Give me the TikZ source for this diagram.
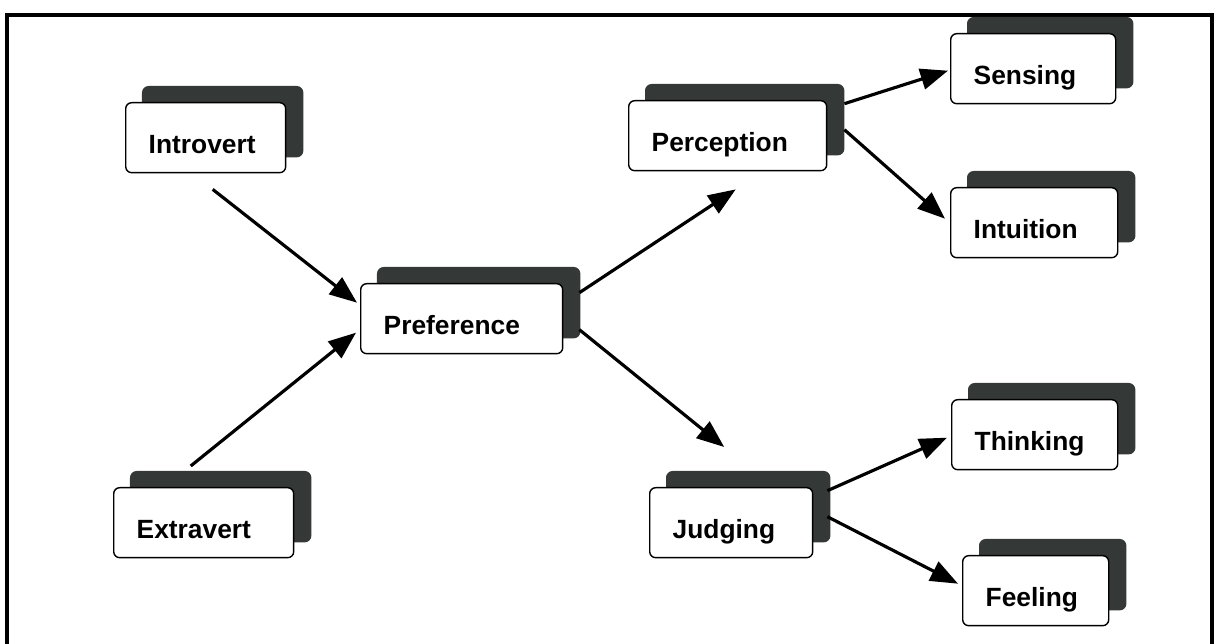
\documentclass[tikz,border=0pt]{standalone}
\usepackage{fontspec}
\setsansfont{Liberation Sans}
\usetikzlibrary{arrows.meta,shadows,calc}
\definecolor{backgray}{RGB}{52,56,54}
\tikzset{
  box/.style={draw=black, line width=0.8pt, fill=white, rounded corners=0.12cm,
    anchor=north west, align=left, text width={(#1-46)*0.02cm},
    inner xsep=0.46cm, inner ysep=0pt, text height=1.02cm, text depth=0.38cm,
    font=\sffamily\bfseries\fontsize{15}{18}\selectfont,
    copy shadow={shadow xshift=0.34cm, shadow yshift=0.32cm, fill=backgray,
      draw=backgray, rounded corners=0.12cm}},
  link/.style={line width=1.8pt, -{Triangle[length=0.55cm,width=0.42cm]}}
}
\begin{document}
\begin{tikzpicture}[x=0.02cm, y=-0.02cm]

    \useasboundingbox (0,0) rectangle (1218,644);
    \draw[line width=2.2pt] (7,650) -- (7,15) -- (1212,15) -- (1212,650);

    \node[box=160] (intro) at (125,102) {Introvert};
    \node[box=180] (extra) at (113,487) {Extravert};
    \node[box=202] (pref) at (360,283) {Preference};
    \node[box=198] (perc) at (628,100) {Perception};
    \node[box=163] (judg) at (649,487) {Judging};
    \node[box=165] (sens) at (950,33) {Sensing};
    \node[box=167] (intu) at (950,187) {Intuition};
    \node[box=166] (think) at (951,399) {Thinking};
    \node[box=146] (feel) at (962,555) {Feeling};

    \draw[link] ($(intro.south)+(7,16)$) -- ($(pref.west)+(-3,-16)$);
    \draw[link] ($(extra.north)+(-13,-21)$) -- ($(pref.west)+(-4,14)$);
    \draw[link] ($(pref.east)+(16,-26)$) -- ($(perc.south)+(8,18)$);
    \draw[link] ($(pref.east)+(16,11)$) -- ($(judg.north)+(-7,-40)$);
    \draw[link] ($(perc.east)+(17,-32)$) -- ($(sens.west)+(-2,2)$);
    \draw[link] ($(perc.east)+(17,-6)$) -- ($(intu.west)+(-5,-4)$);
    \draw[link] ($(judg.east)+(14,-32)$) -- ($(think.west)+(-4,3)$);
    \draw[link] ($(judg.east)+(14,-6)$) -- ($(feel.west)+(-4,-7)$);

\end{tikzpicture}
\end{document}
